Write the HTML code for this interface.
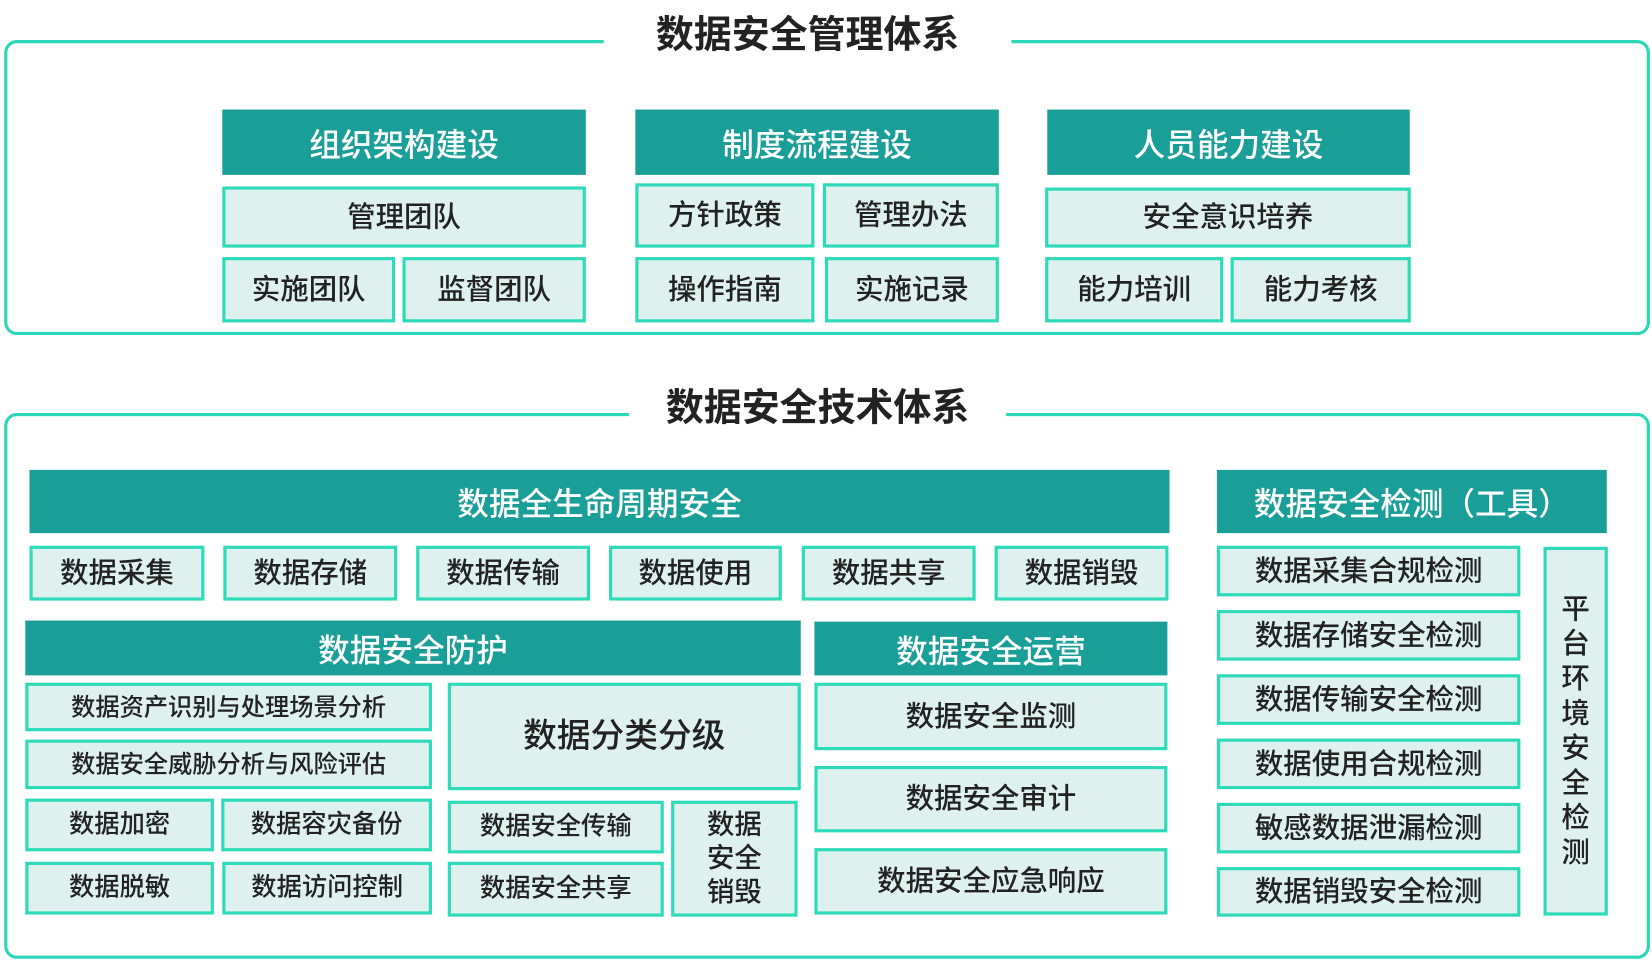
<!DOCTYPE html>
<html><head><meta charset="utf-8"><style>
html,body{margin:0;padding:0;background:#fff;width:1652px;height:964px;overflow:hidden}
#w{position:absolute;left:0;top:0;width:1568px;height:915px;transform:scale(1.0536);transform-origin:0 0;font-family:"Liberation Sans","Noto Sans CJK SC",sans-serif}
.o{position:absolute;border:3px solid #2ad8b8;border-radius:12px;box-sizing:border-box}
.t{position:absolute;background:#fff;font-weight:bold;font-size:36px;color:#222;text-align:center;line-height:40px}
.h,.b{position:absolute;box-sizing:border-box;display:flex;align-items:center;justify-content:center;text-align:center;font-weight:500}
.h{background:#1a9e98;color:#fff;font-size:30px}
.b{background:#dff1ef;border:3px solid #2edbb9;color:#222;font-size:27px;line-height:1.22}
</style></head><body><div id="w">
<div class="o" style="left:4px;top:38px;width:1562px;height:280px"></div>
<div class="t" style="left:573px;top:13px;width:387px">数据安全管理体系</div>
<div class="h" style="left:211px;top:104px;width:345px;height:62px">组织架构建设</div>
<div class="h" style="left:603px;top:104px;width:345px;height:62px">制度流程建设</div>
<div class="h" style="left:994px;top:104px;width:344px;height:62px">人员能力建设</div>
<div class="b" style="left:211px;top:177px;width:345px;height:58px">管理团队</div>
<div class="b" style="left:603px;top:174px;width:170px;height:61px">方针政策</div>
<div class="b" style="left:781px;top:174px;width:167px;height:61px">管理办法</div>
<div class="b" style="left:992px;top:178px;width:347px;height:57px">安全意识培养</div>
<div class="b" style="left:211px;top:244px;width:164px;height:62px">实施团队</div>
<div class="b" style="left:382px;top:244px;width:174px;height:62px">监督团队</div>
<div class="b" style="left:603px;top:244px;width:170px;height:62px">操作指南</div>
<div class="b" style="left:783px;top:244px;width:165px;height:62px">实施记录</div>
<div class="b" style="left:992px;top:244px;width:169px;height:62px">能力培训</div>
<div class="b" style="left:1168px;top:244px;width:171px;height:62px">能力考核</div>

<div class="o" style="left:4px;top:392px;width:1562px;height:518px"></div>
<div class="t" style="left:597px;top:367px;width:358px">数据安全技术体系</div>
<div class="h" style="left:28px;top:446px;width:1082px;height:60px">数据全生命周期安全</div>
<div class="b" style="left:28px;top:518px;width:166px;height:52px">数据采集</div>
<div class="b" style="left:212px;top:518px;width:165px;height:52px">数据存储</div>
<div class="b" style="left:395px;top:518px;width:165px;height:52px">数据传输</div>
<div class="b" style="left:578px;top:518px;width:164px;height:52px">数据使用</div>
<div class="b" style="left:761px;top:518px;width:165px;height:52px">数据共享</div>
<div class="b" style="left:944px;top:518px;width:165px;height:52px">数据销毁</div>
<div class="h" style="left:24px;top:589px;width:736px;height:52px">数据安全防护</div>
<div class="h" style="left:773px;top:590px;width:335px;height:51px">数据安全运营</div>
<div class="b" style="left:24px;top:648px;width:386px;height:46px;font-size:23px">数据资产识别与处理场景分析</div>
<div class="b" style="left:24px;top:702px;width:386px;height:47px;font-size:23px">数据安全威胁分析与风险评估</div>
<div class="b" style="left:425px;top:648px;width:335px;height:102px;font-size:32px">数据分类分级</div>
<div class="b" style="left:24px;top:758px;width:179px;height:50px;font-size:24px">数据加密</div>
<div class="b" style="left:210px;top:758px;width:200px;height:50px;font-size:24px">数据容灾备份</div>
<div class="b" style="left:24px;top:818px;width:179px;height:50px;font-size:24px">数据脱敏</div>
<div class="b" style="left:211px;top:818px;width:199px;height:50px;font-size:24px">数据访问控制</div>
<div class="b" style="left:425px;top:760px;width:205px;height:50px;font-size:24px">数据安全传输</div>
<div class="b" style="left:425px;top:818px;width:205px;height:52px;font-size:24px">数据安全共享</div>
<div class="b" style="left:637px;top:760px;width:120px;height:110px;font-size:26px">数据<br>安全<br>销毁</div>
<div class="b" style="left:773px;top:648px;width:335px;height:64px">数据安全监测</div>
<div class="b" style="left:773px;top:727px;width:335px;height:63px">数据安全审计</div>
<div class="b" style="left:773px;top:805px;width:335px;height:63px">数据安全应急响应</div>
<div class="h" style="left:1155px;top:446px;width:370px;height:60px">数据安全检测（工具）</div>
<div class="b" style="left:1155px;top:518px;width:288px;height:48px">数据采集合规检测</div>
<div class="b" style="left:1155px;top:579px;width:288px;height:48px">数据存储安全检测</div>
<div class="b" style="left:1155px;top:640px;width:288px;height:48px">数据传输安全检测</div>
<div class="b" style="left:1155px;top:701px;width:288px;height:48px">数据使用合规检测</div>
<div class="b" style="left:1155px;top:762px;width:288px;height:48px">敏感数据泄漏检测</div>
<div class="b" style="left:1155px;top:823px;width:288px;height:47px">数据销毁安全检测</div>
<div class="b" style="left:1465px;top:519px;width:61px;height:350px;line-height:33px">平<br>台<br>环<br>境<br>安<br>全<br>检<br>测</div>
</div></body></html>
